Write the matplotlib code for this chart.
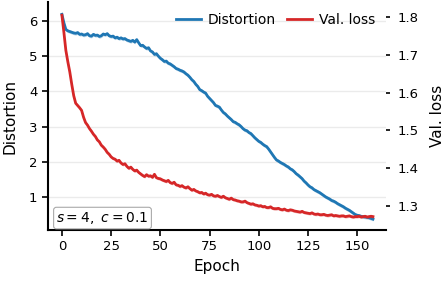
import numpy as np
import matplotlib
matplotlib.use('Agg')
import matplotlib.pyplot as plt

# ── data ──────────────────────────────────────────────────────────────────────

distortion = [
    6.19, 5.95, 5.76, 5.72, 5.70, 5.68, 5.66, 5.65, 5.67, 5.62,
    5.63, 5.60, 5.61, 5.64, 5.58, 5.57, 5.62, 5.59, 5.60, 5.56,
    5.58, 5.63, 5.61, 5.64, 5.58, 5.56, 5.57, 5.52, 5.54, 5.50,
    5.52, 5.49, 5.50, 5.46, 5.44, 5.42, 5.45, 5.40, 5.47, 5.38,
    5.30, 5.31, 5.26, 5.22, 5.24, 5.15, 5.12, 5.05, 5.07, 5.00,
    4.94, 4.90, 4.85, 4.86, 4.80, 4.78, 4.74, 4.70, 4.65, 4.63,
    4.60, 4.58, 4.55, 4.50, 4.46, 4.40, 4.33, 4.28, 4.20, 4.14,
    4.05, 4.02, 3.98, 3.95, 3.86, 3.80, 3.74, 3.68, 3.60, 3.58,
    3.55, 3.47, 3.40, 3.36, 3.30, 3.25, 3.20, 3.14, 3.12, 3.08,
    3.05, 3.00, 2.94, 2.90, 2.88, 2.83, 2.80, 2.74, 2.68, 2.63,
    2.58, 2.55, 2.50, 2.46, 2.43, 2.36, 2.28, 2.20, 2.12, 2.05,
    2.02, 1.98, 1.95, 1.92, 1.88, 1.85, 1.80, 1.77, 1.72, 1.66,
    1.62, 1.57, 1.52, 1.45, 1.40, 1.34, 1.29, 1.26, 1.21, 1.18,
    1.15, 1.12, 1.08, 1.04, 1.00, 0.97, 0.94, 0.90, 0.88, 0.85,
    0.81, 0.78, 0.75, 0.72, 0.68, 0.65, 0.62, 0.58, 0.54, 0.50,
    0.48, 0.47, 0.45, 0.44, 0.43, 0.42, 0.41, 0.39, 0.37,
]

val_loss = [
    1.805, 1.760, 1.712, 1.682, 1.655, 1.622, 1.592, 1.572, 1.566, 1.560,
    1.553, 1.535, 1.521, 1.514, 1.505, 1.498, 1.490, 1.484, 1.475, 1.470,
    1.461, 1.456, 1.450, 1.442, 1.437, 1.430, 1.426, 1.424, 1.419, 1.421,
    1.414, 1.410, 1.412, 1.405, 1.400, 1.403, 1.397, 1.393, 1.395, 1.389,
    1.385, 1.381, 1.378, 1.383, 1.379, 1.380, 1.376, 1.384, 1.375, 1.373,
    1.372, 1.369, 1.367, 1.365, 1.368, 1.362, 1.360, 1.363, 1.356, 1.355,
    1.352, 1.354, 1.350, 1.348, 1.351, 1.346, 1.342, 1.344, 1.340, 1.338,
    1.335, 1.336, 1.332, 1.334, 1.330, 1.329, 1.331, 1.327, 1.326, 1.328,
    1.325, 1.323, 1.326, 1.322, 1.320, 1.318, 1.321, 1.317, 1.316, 1.314,
    1.313, 1.311, 1.311, 1.313, 1.309, 1.307, 1.305, 1.306, 1.303, 1.302,
    1.300, 1.301, 1.298, 1.299, 1.296, 1.296, 1.298, 1.294, 1.293, 1.293,
    1.294, 1.291, 1.290, 1.292, 1.289, 1.288, 1.290, 1.289, 1.287, 1.286,
    1.285, 1.284, 1.286, 1.283, 1.282, 1.281, 1.280, 1.282, 1.279, 1.278,
    1.279, 1.277, 1.277, 1.278, 1.276, 1.275, 1.276, 1.277, 1.274, 1.275,
    1.274, 1.273, 1.274, 1.274, 1.272, 1.273, 1.274, 1.272, 1.271, 1.272,
    1.272, 1.273, 1.271, 1.272, 1.273, 1.271, 1.272, 1.273, 1.272,
]

epochs = np.arange(len(distortion))
DIST_SPREAD = 0.05     # half-width of the shaded band (left axis)
LOSS_SPREAD = 0.004    # half-width of the shaded band (right axis)

BLUE = '#1f77b4'
RED  = '#d62728'

# ── figure ────────────────────────────────────────────────────────────────────

fig = plt.figure(figsize=(4.48, 2.84), dpi=100)
ax = fig.add_axes([0.107, 0.19, 0.755, 0.803])
ax2 = ax.twinx()

d = np.array(distortion)
v = np.array(val_loss)

ax.fill_between(epochs, d - DIST_SPREAD, d + DIST_SPREAD, color=BLUE, alpha=0.3, lw=0)
l1, = ax.plot(epochs, d, color=BLUE, lw=2, label='Distortion')
ax2.fill_between(epochs, v - LOSS_SPREAD, v + LOSS_SPREAD, color=RED, alpha=0.3, lw=0)
l2, = ax2.plot(epochs, v, color=RED, lw=2, label='Val. loss')

ax.set_xlim(-7.1, 164.7)
ax.set_ylim(0.06, 6.54)
ax2.set_ylim(1.2365, 1.84)
ax.set_xticks([0, 25, 50, 75, 100, 125, 150])
ax.set_yticks([1, 2, 3, 4, 5, 6])
ax2.set_yticks([1.3, 1.4, 1.5, 1.6, 1.7, 1.8])

ax.grid(axis='y', color='#ebebeb', lw=1)
ax.set_axisbelow(True)

for s in ['top', 'right']:
    ax.spines[s].set_visible(False)
for s in ['top', 'right', 'left', 'bottom']:
    ax2.spines[s].set_visible(False)
ax.spines['left'].set_linewidth(1.5)
ax.spines['bottom'].set_linewidth(1.5)

ax.tick_params(labelsize=9.5, width=1.2, length=4)
ax2.tick_params(labelsize=9.5, width=1.2, length=3, pad=5)

ax.set_xlabel('Epoch', fontsize=11, labelpad=4)
ax.set_ylabel('Distortion', fontsize=11, labelpad=8)
ax2.set_ylabel('Val. loss', fontsize=11, labelpad=8)

ax.legend(handles=[l1, l2], loc='upper right', ncol=2, frameon=False,
          fontsize=10, handlelength=1.8, columnspacing=0.8, handletextpad=0.5,
          borderaxespad=0.4)

ax.text(0.025, 0.035, r'$s=4,\ c=0.1$', transform=ax.transAxes, fontsize=10,
        bbox=dict(boxstyle='round,pad=0.2', fc='white', ec='#aaaaaa', lw=0.8))

fig.savefig('out.png', dpi=100)
